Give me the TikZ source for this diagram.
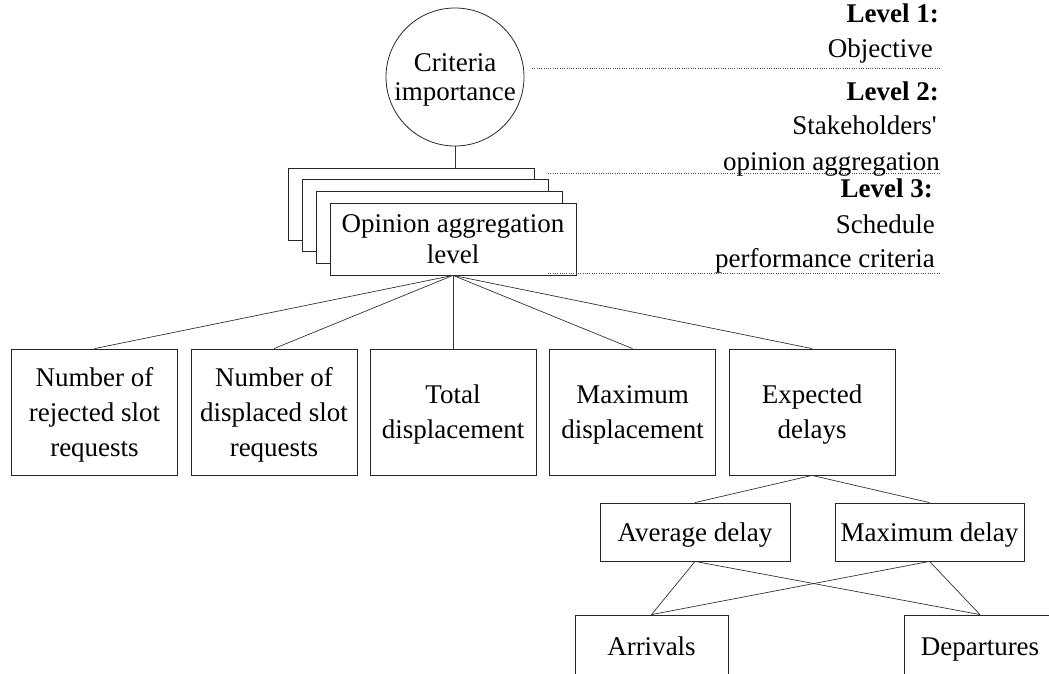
\documentclass[tikz,border=0pt]{standalone}
\usepackage{fontspec}
\setmainfont{Liberation Serif}
\begin{document}
\begin{tikzpicture}[x=1pt,y=-1pt,
  box/.style={draw=black!85, line width=0.8pt, fill=white, align=center, inner sep=0pt,
    font=\fontsize{27}{35}\selectfont},
  bigbox/.style={box, minimum width=166pt, minimum height=126pt, text depth=0pt},
  midbox/.style={box, minimum height=58pt, text height=19pt, text depth=0pt},
  lowbox/.style={box, minimum height=66pt, text height=19pt, text depth=5pt},
  stackbox/.style={box, minimum width=246pt, minimum height=72pt},
  conn/.style={draw=black!80, line width=0.7pt},
  lvlline/.style={draw=black!70, line width=0.6pt, dash pattern=on 1pt off 1.3pt},
  lvltext/.style={anchor=base east, inner sep=0pt, font=\fontsize{27}{35}\selectfont},
  lvlhead/.style={lvltext, font=\fontsize{27}{35}\selectfont\bfseries}]
\useasboundingbox (0,0) rectangle (1049,674);

% objective
\node[draw=black!85, line width=0.8pt, circle, minimum size=138pt, inner sep=0pt, align=center,
  text depth=-5pt, font=\fontsize{27}{29}\selectfont] (ci) at (455,77) {Criteria\\importance};

% stacked opinion aggregation boxes
\node[stackbox] (s0) at (411,204) {};
\node[stackbox] (s1) at (425,215.7) {};
\node[stackbox] (s2) at (439,227.3) {};
\node[stackbox, font=\fontsize{27}{31}\selectfont] (oal) at (453,239) {Opinion aggregation\\level};
\draw[conn] (ci.south) -- (ci.south |- s0.north);

% criteria
\node[bigbox] (b1) at (94.5,412) {Number of\\rejected slot\\requests};
\node[bigbox] (b2) at (274,412) {Number of\\displaced slot\\requests};
\node[bigbox] (b3) at (453,412) {Total\\displacement};
\node[bigbox] (b4) at (632.5,412) {Maximum\\displacement};
\node[bigbox] (b5) at (812,412) {Expected\\delays};
\foreach \b in {b1,b2,b3,b4,b5}{\draw[conn] (oal.south) -- (\b.north);}

\node[midbox, minimum width=190pt] (avg) at (695,532) {Average delay};
\node[midbox, minimum width=189pt] (mx) at (929.5,532) {Maximum delay};
\draw[conn] (b5.south) -- (avg.north);
\draw[conn] (b5.south) -- (mx.north);

\node[lowbox, minimum width=153pt] (arr) at (651.5,648) {Arrivals};
\node[lowbox, minimum width=152pt] (dep) at (980,648) {Departures};
\draw[conn] (avg.south) -- (arr.north);
\draw[conn] (avg.south) -- (dep.north);
\draw[conn] (mx.south) -- (arr.north);
\draw[conn] (mx.south) -- (dep.north);

% level separators
\coordinate (d1a) at (532,68);  \coordinate (d1b) at (940,68);
\coordinate (d2a) at (548,173); \coordinate (d2b) at (940,173);
\coordinate (d3a) at (548,273); \coordinate (d3b) at (940,273);
\draw[lvlline] (d1a) -- (d1b);
\draw[lvlline] (d2a) -- (d2b);
\draw[lvlline] (d3a) -- (d3b);

% level labels
\node[lvlhead] (l1) at (939,23) {Level 1:};
\node[lvltext] (l1t) at (933,58) {Objective};
\node[lvlhead] (l2) at (939,101) {Level 2:};
\node[lvltext] (l2t) at (937,135) {Stakeholders\textquotesingle};
\node[lvltext] (l2u) at (940,170) {opinion aggregation};
\node[lvlhead] (l3) at (933,197) {Level 3:};
\node[lvltext] (l3t) at (935,233) {Schedule};
\node[lvltext] (l3u) at (935,267) {performance criteria};
\end{tikzpicture}
\end{document}
